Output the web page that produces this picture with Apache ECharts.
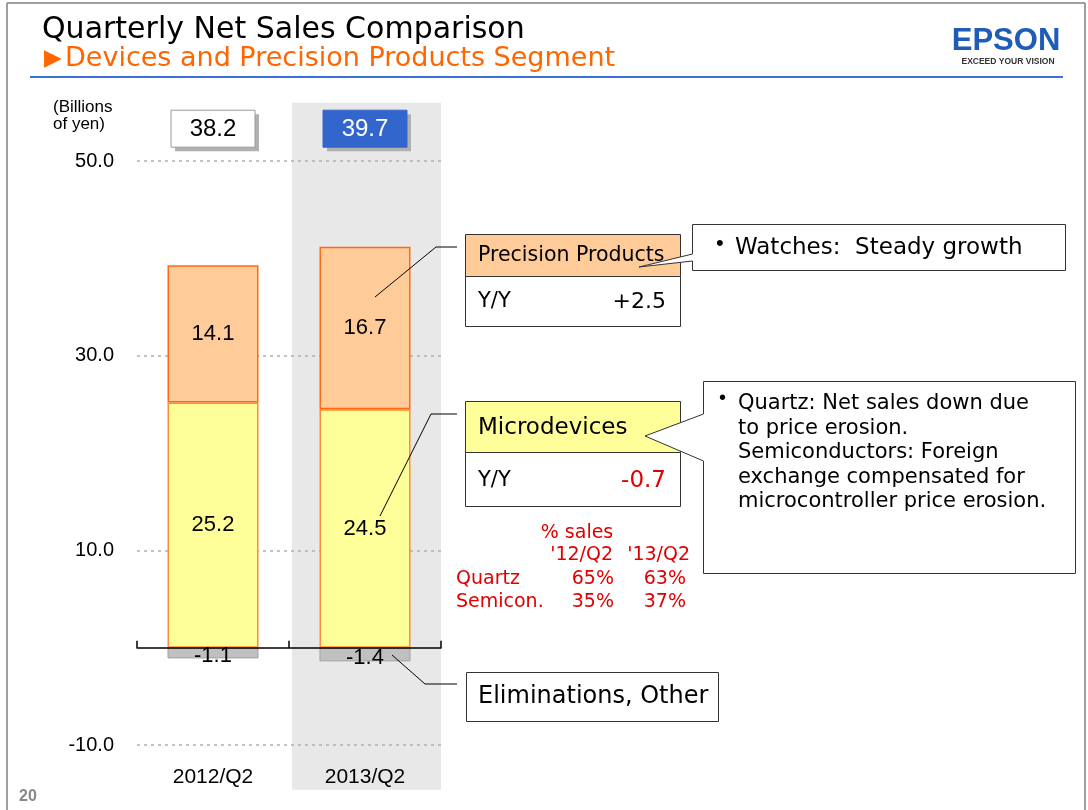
<!DOCTYPE html>
<html>
<head>
<meta charset="utf-8">
<script src="https://cdn.jsdelivr.net/npm/echarts@6/dist/echarts.min.js"></script>
<style>
  html, body { margin: 0; padding: 0; background: #ffffff; }
  #main { width: 1088px; height: 810px; }
</style>
</head>
<body>
<div id="main"></div>
<script>
// data
const categories = ['2012/Q2', '2013/Q2'];
const eliminations = [-1.1, -1.4];
const microdevices = [25.2, 24.5];
const precision = [14.1, 16.7];
const totals = [38.2, 39.7];
const highlightCategory = '2013/Q2';
const yLabelValues = [-10, 10, 30, 50];
const segmentNames = ['Precision Products', 'Microdevices', 'Eliminations, Other'];
const yoyValues = ['+2.5', '-0.7'];
const pctTitle = '% sales';
const pctHeaders = ["'12/Q2", "'13/Q2"];
const pctRows = [
  ['Quartz', '65%', '63%'],
  ['Semicon.', '35%', '37%']
];
const watchesNote = 'Watches:  Steady growth';
const quartzNote = 'Quartz: Net sales down due\nto price erosion.\nSemiconductors: Foreign\nexchange compensated for\nmicrocontroller price erosion.';

const Y_MIN = -15, Y_MAX = 56, Y_STEP = 5;
const shadeRange = [-14.6, 56];

const numFont = '"Liberation Sans", Arial, sans-serif';
const txtFont = '"DejaVu Sans", sans-serif';
const red = '#e00000';

// only some of the ticks get a dotted grid line
const gridColors = [];
for (let v = Y_MIN; v <= Y_MAX; v += Y_STEP) {
  gridColors.push(yLabelValues.indexOf(v) >= 0 ? '#b0b0b0' : 'rgba(0,0,0,0)');
}
gridColors.push('rgba(0,0,0,0)');

const chart = echarts.init(document.getElementById('main'));

function txt(x, y, text, size, opts) {
  opts = opts || {};
  return {
    type: 'text', z: 20,
    style: {
      x: x, y: y, text: text,
      font: (opts.bold ? 'bold ' : '') + size + 'px ' + (opts.family || txtFont),
      fill: opts.color || '#000',
      textAlign: opts.align || 'left',
      textVerticalAlign: 'middle',
      lineHeight: opts.lineHeight
    }
  };
}
function box(x, y, w, h, fill) {
  return { type: 'rect', z: 15, shape: { x: x, y: y, width: w, height: h },
    style: { fill: fill, stroke: '#333', lineWidth: 1 } };
}
function leader(points) {
  return { type: 'polyline', z: 15, shape: { points: points },
    style: { stroke: '#000', lineWidth: 1, fill: null } };
}

const graphics = [
  // page frame
  { type: 'line', shape: { x1: 7, y1: 3, x2: 7, y2: 810 }, style: { stroke: '#808080', lineWidth: 1.5 } },
  { type: 'line', shape: { x1: 7, y1: 3, x2: 1085, y2: 3 }, style: { stroke: '#808080', lineWidth: 1.5 } },
  { type: 'line', shape: { x1: 1085, y1: 3, x2: 1085, y2: 810 }, style: { stroke: '#808080', lineWidth: 1.5 } },
  { type: 'line', shape: { x1: 30, y1: 77, x2: 1063, y2: 77 }, style: { stroke: '#3a72d6', lineWidth: 2 } },
  // header
  txt(42, 30, 'Quarterly Net Sales Comparison', 30),
  txt(44, 59, '▶', 23, { color: '#ff6600' }),
  txt(65, 59, 'Devices and Precision Products Segment', 27, { color: '#ff6600' }),
  txt(1006, 41, 'EPSON', 31, { bold: true, family: numFont, color: '#1f5bb8', align: 'center' }),
  txt(1008, 62, 'EXCEED YOUR VISION', 8.5, { bold: true, family: numFont, color: '#333', align: 'center' }),
  txt(28, 797, '20', 16, { bold: true, family: numFont, color: '#888', align: 'center' }),
  txt(53, 107, '(Billions', 17, { family: numFont }),
  txt(53, 124, 'of yen)', 17, { family: numFont }),

  // leader lines from the bars
  leader([[375, 297], [436, 247], [457, 247]]),
  leader([[380, 516], [431, 414], [457, 414]]),
  leader([[392, 655], [425, 684], [457, 684]]),

  // Precision Products box
  box(465.5, 234.5, 215, 42, '#ffcc99'),
  box(465.5, 276.5, 215, 50, '#ffffff'),
  txt(478, 256, segmentNames[0], 20.5),
  txt(478, 302, 'Y/Y', 21),
  txt(666, 302, yoyValues[0], 22, { align: 'right' }),

  // Microdevices box
  box(465.5, 401.5, 215, 51, '#ffff99'),
  box(465.5, 452.5, 215, 54, '#ffffff'),
  txt(478, 428, segmentNames[1], 23),
  txt(478, 481, 'Y/Y', 21),
  txt(666, 481, yoyValues[1], 23, { align: 'right', color: red }),

  // Eliminations box
  box(466.5, 672.5, 252, 49, '#ffffff'),
  txt(478, 697, segmentNames[2], 24),

  // % sales table
  txt(577, 533, pctTitle, 19, { color: red, align: 'center' }),
  txt(613, 555, pctHeaders[0], 19, { color: red, align: 'right' }),
  txt(690, 555, pctHeaders[1], 19, { color: red, align: 'right' })
];

pctRows.forEach(function (row, i) {
  const y = 579 + i * 23;
  graphics.push(txt(456, y, row[0], 19, { color: red }));
  graphics.push(txt(614, y, row[1], 19, { color: red, align: 'right' }));
  graphics.push(txt(686, y, row[2], 19, { color: red, align: 'right' }));
});

// speech-bubble callouts
graphics.push({
  type: 'polygon', z: 16,
  shape: { points: [[692.5, 224.5], [1065.5, 224.5], [1065.5, 270.5], [692.5, 270.5], [692.5, 261], [639, 267], [692.5, 254]] },
  style: { fill: '#fff', stroke: '#333', lineWidth: 1 }
});
graphics.push(txt(716, 244, '•', 22, { family: numFont }));
graphics.push(txt(735, 248, watchesNote, 23));

graphics.push({
  type: 'polygon', z: 16,
  shape: { points: [[703.5, 381.5], [1075.5, 381.5], [1075.5, 573.5], [703.5, 573.5], [703.5, 461], [645, 436], [703.5, 414]] },
  style: { fill: '#fff', stroke: '#333', lineWidth: 1 }
});
graphics.push(txt(719, 398, '•', 20, { family: numFont }));
graphics.push(txt(738, 453, quartzNote, 21, { lineHeight: 24.5 }));

const barLabel = {
  show: true,
  position: 'inside',
  color: '#000',
  fontSize: 22,
  fontFamily: numFont,
  formatter: function (p) { return p.value.toFixed(1); }
};

const option = {
  animation: false,
  backgroundColor: '#ffffff',
  grid: { left: 137, right: 647, top: 102.7, bottom: 16.3 },
  xAxis: [{
    type: 'category',
    data: categories,
    position: 'bottom',
    z: 1,
    axisLine: { show: false, onZero: false },
    axisTick: { show: false },
    axisLabel: { inside: true, margin: 6, color: '#000', fontSize: 21, fontFamily: numFont }
  }, {
    type: 'category',
    data: categories,
    position: 'bottom',
    z: 3,
    axisLine: { show: true, onZero: true, lineStyle: { color: '#000', width: 1.5 } },
    axisTick: { show: true, inside: true, length: 7, lineStyle: { color: '#000', width: 1.5 } },
    axisLabel: { show: false },
    splitLine: { show: false }
  }],
  yAxis: {
    type: 'value',
    min: Y_MIN,
    max: Y_MAX,
    interval: Y_STEP,
    z: 1,
    axisLine: { show: false },
    axisTick: { show: false },
    axisLabel: {
      margin: 23,
      color: '#000',
      fontSize: 20,
      fontFamily: numFont,
      formatter: function (v) { return yLabelValues.indexOf(v) >= 0 ? v.toFixed(1) : ''; }
    },
    splitLine: { show: true, lineStyle: { color: gridColors, type: [3, 4], width: 1.5 } }
  },
  series: [{
    // grey band behind the current quarter
    type: 'custom',
    z: 0,
    silent: true,
    data: [[categories.indexOf(highlightCategory), 0]],
    encode: { x: 0, y: 1 },
    renderItem: function (params, api) {
      const cx = api.coord([api.value(0), 0])[0];
      const bw = api.size([1, 0])[0];
      const top = api.coord([api.value(0), shadeRange[1]])[1];
      const bot = api.coord([api.value(0), shadeRange[0]])[1];
      return {
        type: 'rect',
        shape: { x: cx - bw / 2 + 3, y: top, width: bw - 3, height: bot - top },
        style: { fill: '#e8e8e8' }
      };
    }
  }, {
    name: 'Eliminations, Other',
    type: 'bar',
    stack: 'sales',
    barWidth: 91,
    data: eliminations,
    itemStyle: { color: '#c0c0c0', borderColor: '#a0a0a0', borderWidth: 1 },
    label: Object.assign({}, barLabel, { offset: [0, 3] })
  }, {
    name: 'Microdevices',
    type: 'bar',
    stack: 'sales',
    barWidth: 91,
    data: microdevices,
    itemStyle: { color: '#ffff99', borderColor: '#ff8c33', borderWidth: 1.5 },
    label: barLabel
  }, {
    name: 'Precision Products',
    type: 'bar',
    stack: 'sales',
    barWidth: 91,
    data: precision,
    itemStyle: { color: '#ffcc99', borderColor: '#ff6a10', borderWidth: 1.5 },
    label: barLabel
  }, {
    // total boxes above each bar
    type: 'custom',
    z: 5,
    silent: true,
    data: totals.map(function (t, i) { return [i, t]; }),
    encode: { x: 0, y: 1 },
    renderItem: function (params, api) {
      const cx = api.coord([api.value(0), 0])[0];
      const top = params.coordSys.y + 7.5;
      const hot = categories[params.dataIndex] === highlightCategory;
      return {
        type: 'group',
        children: [{
          type: 'rect',
          shape: { x: cx - 42 + 4, y: top + 4, width: 84, height: 37 },
          style: { fill: '#b0b0b0' }
        }, {
          type: 'rect',
          shape: { x: cx - 42, y: top, width: 84, height: 37 },
          style: { fill: hot ? '#3366cc' : '#ffffff', stroke: hot ? '#3366cc' : '#999', lineWidth: 1 }
        }, {
          type: 'text',
          style: {
            x: cx, y: top + 19,
            text: api.value(1).toFixed(1),
            textAlign: 'center', textVerticalAlign: 'middle',
            font: '24px ' + numFont,
            fill: hot ? '#ffffff' : '#000000'
          }
        }]
      };
    }
  }],
  graphic: graphics
};

chart.setOption(option);
</script>
</body>
</html>
